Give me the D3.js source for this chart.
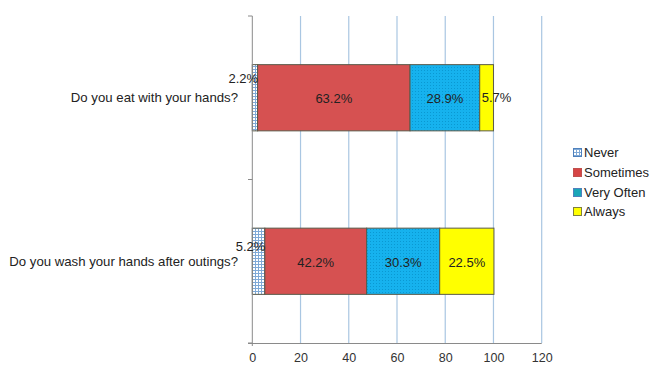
<!DOCTYPE html>
<html>
<head>
<meta charset="utf-8">
<script src="https://cdn.jsdelivr.net/npm/d3@7"></script>
<style>
  html, body { margin: 0; padding: 0; background: #fff; }
  svg { display: block; font-family: "Liberation Sans", Arial, sans-serif; }
</style>
</head>
<body>
<svg id="chart" width="654" height="367"></svg>
<script>
// Survey questions (top to bottom)
const questions = ["Do you eat with your hands?", "Do you wash your hands after outings?"];
// Answer categories, stacked left to right
const answers = ["Never", "Sometimes", "Very Often", "Always"];
// Percentages per question, in the order of `answers`
const neverPct      = [2.2, 5.2];
const sometimesPct  = [63.2, 42.2];
const veryOftenPct  = [28.9, 30.3];
const alwaysPct     = [5.7, 22.5];
const xTicks = [0, 20, 40, 60, 80, 100, 120];

const seriesValues = [neverPct, sometimesPct, veryOftenPct, alwaysPct];
const rows = questions.map((q, i) => {
  const r = { question: q };
  answers.forEach((a, k) => { r[a] = seriesValues[k][i]; });
  return r;
});

const svg = d3.select("#chart");
const defs = svg.append("defs");

// Light-blue grid hatch for "Never"
const pNever = defs.append("pattern").attr("id", "pNever")
  .attr("patternUnits", "userSpaceOnUse").attr("width", 3).attr("height", 3);
pNever.append("rect").attr("width", 3).attr("height", 3).attr("fill", "#ffffff");
pNever.append("path").attr("d", "M0,0.5H3M0.5,0V3").attr("stroke", "#7fa9d6").attr("stroke-width", 1);

// Fine dots on the cyan "Very Often" fill
const pOften = defs.append("pattern").attr("id", "pOften")
  .attr("patternUnits", "userSpaceOnUse").attr("width", 3).attr("height", 3);
pOften.append("rect").attr("width", 3).attr("height", 3).attr("fill", "#16b2ee");
pOften.append("rect").attr("x", 1).attr("y", 1).attr("width", 1).attr("height", 1).attr("fill", "#0a98d2");

const fills = {
  "Never": "url(#pNever)",
  "Sometimes": "#d65151",
  "Very Often": "url(#pOften)",
  "Always": "#ffff00"
};
const legendFills = {
  "Never": "url(#pNever)",
  "Sometimes": "#d64545",
  "Very Often": "#1aa6b8",
  "Always": "#ffff00"
};
const legendStrokes = {
  "Never": "#4f81bd",
  "Sometimes": "#c0504d",
  "Very Often": "#4f81bd",
  "Always": "#7f7f3f"
};

const x = d3.scaleLinear().domain([0, 120]).range([252.3, 541.7]);
const y = d3.scaleBand().domain(questions).range([16, 343]).padding(0);
const barH = y.bandwidth() * 0.405;

// Vertical gridlines
svg.append("g").selectAll("line").data(xTicks.filter(t => t > 0)).join("line")
  .attr("x1", d => x(d)).attr("x2", d => x(d))
  .attr("y1", 16).attr("y2", 343)
  .attr("stroke", "#a9c6e2").attr("stroke-width", 1.2);

// Stacked bars
const stack = d3.stack().keys(answers)(rows);
const seg = svg.append("g").selectAll("g").data(stack).join("g")
  .attr("fill", d => fills[d.key]);
seg.selectAll("rect").data(d => d.map(v => ({ key: d.key, v }))).join("rect")
  .attr("x", d => x(d.v[0]))
  .attr("width", d => x(d.v[1]) - x(d.v[0]))
  .attr("y", d => y(d.v.data.question) + (y.bandwidth() - barH) / 2)
  .attr("height", barH)
  .attr("stroke", "#5a5a4a").attr("stroke-width", 1);

// Axes
const xAxis = d3.axisBottom(x).tickValues(xTicks).tickSize(0).tickPadding(10);
const gx = svg.append("g").attr("transform", "translate(0,343)").call(xAxis);
gx.select(".domain").attr("stroke", "#8a8a8a").attr("d", "M248,0.5H541.7");
gx.selectAll("text").attr("font-size", 12.5).attr("fill", "#333");

svg.append("line").attr("x1", 252.3).attr("x2", 252.3).attr("y1", 16).attr("y2", 346)
  .attr("stroke", "#8a8a8a");
// Category tick marks at band boundaries
const bounds = [y.range()[0], ...questions.slice(1).map(q => y(q)), y.range()[1]];
svg.append("g").selectAll("line").data(bounds).join("line")
  .attr("x1", 248).attr("x2", 252.3).attr("y1", d => d).attr("y2", d => d)
  .attr("stroke", "#8a8a8a");

// Question labels
svg.append("g").selectAll("text").data(questions).join("text")
  .attr("x", 238).attr("y", d => y(d) + y.bandwidth() / 2)
  .attr("dy", "0.35em").attr("text-anchor", "end")
  .attr("font-size", 13.2).attr("fill", "#222")
  .text(d => d);

// Value labels: centred in each segment; narrow end segments sit beside the bar
const labels = [];
stack.forEach(s => s.forEach(v => labels.push({ key: s.key, v, value: v[1] - v[0] })));
function labelPos(d) {
  const cy = y(d.v.data.question) + y.bandwidth() / 2;
  const cx = x((d.v[0] + d.v[1]) / 2);
  if (d.key === "Never") {
    const up = d.v.data.question === questions[0] ? 19 : 14.5;
    return { x: x(d.v[1]) + 0.5, y: cy - up, anchor: "end" };
  }
  if (d.key === "Always" && d.value < 10) return { x: cx + 10, y: cy, anchor: "middle" };
  return { x: cx, y: cy + 1, anchor: "middle" };
}
svg.append("g").selectAll("text").data(labels).join("text")
  .each(function (d) {
    const p = labelPos(d);
    d3.select(this).attr("x", p.x).attr("y", p.y).attr("text-anchor", p.anchor);
  })
  .attr("dy", "0.35em").attr("font-size", 13).attr("fill", "#222")
  .text(d => d3.format(".1f")(d.value) + "%");

// Legend
const lg = svg.append("g").selectAll("g").data(answers).join("g")
  .attr("transform", (d, i) => `translate(573,${[152, 172, 192, 211][i]})`);
lg.append("rect").attr("x", 0.5).attr("y", -3.5).attr("width", 8).attr("height", 8)
  .attr("fill", d => legendFills[d]).attr("stroke", d => legendStrokes[d]);
lg.append("text").attr("x", 11).attr("y", 0.5).attr("dy", "0.35em")
  .attr("font-size", 13).attr("fill", "#222").text(d => d);
</script>
</body>
</html>
